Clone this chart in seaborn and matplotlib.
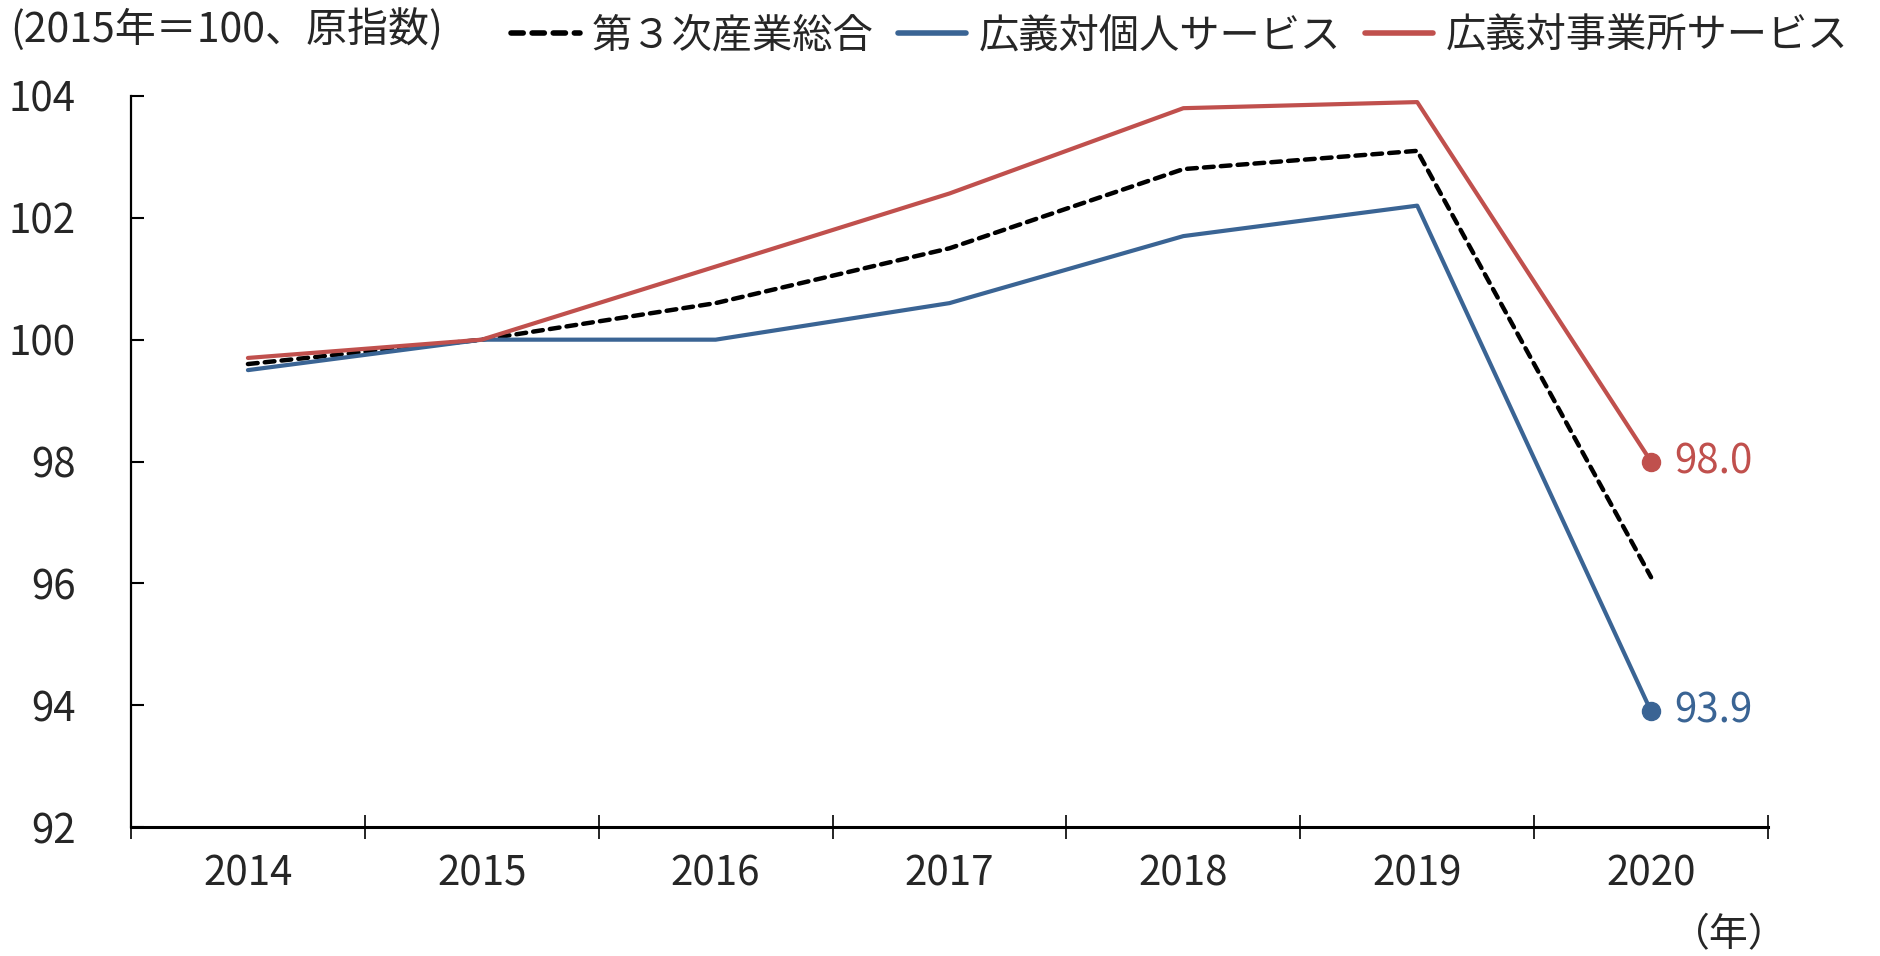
import numpy as np
import pandas as pd
import seaborn as sns
import matplotlib.pyplot as plt

years = ["2014", "2015", "2016", "2017", "2018", "2019", "2020"]
total = [99.6, 100.0, 100.6, 101.5, 102.8, 103.1, 96.1]       # 第３次産業総合
personal = [99.5, 100.0, 100.0, 100.6, 101.7, 102.2, 93.9]    # 広義対個人サービス
business = [99.7, 100.0, 101.2, 102.4, 103.8, 103.9, 98.0]    # 広義対事業所サービス
y_ticks = [92, 94, 96, 98, 100, 102, 104]

RED = "#C0504D"
BLUE = "#3A6494"

sns.set_style("white")
plt.rcParams["font.family"] = ["Noto Sans CJK JP", "DejaVu Sans"]

df = pd.DataFrame({"idx": np.arange(len(years)), "year": years,
                   "total": total, "personal": personal, "business": business})

fig, ax = plt.subplots(figsize=(18.81, 9.56), dpi=100)
fig.subplots_adjust(left=131 / 1881, right=1768 / 1881, top=1 - 96 / 956, bottom=1 - 827 / 956)

sns.lineplot(data=df, x="idx", y="total", color="black", lw=3.2,
             linestyle=(0, (2.2, 1.6)), dash_capstyle="round", ax=ax, label="第３次産業総合")
sns.lineplot(data=df, x="idx", y="personal", color=BLUE, lw=3, ax=ax, label="広義対個人サービス")
sns.lineplot(data=df, x="idx", y="business", color=RED, lw=3, ax=ax, label="広義対事業所サービス")

# end point markers + labels
for vals, col in [(business, RED), (personal, BLUE)]:
    ax.plot([df["idx"].iloc[-1]], [vals[-1]], "o", color=col, ms=13, zorder=5)
    ax.annotate(f"{vals[-1]:.1f}", (df["idx"].iloc[-1], vals[-1]), xytext=(17, 0),
                textcoords="offset points", color=col, fontsize=29, va="center", ha="left")

ax.set_xlim(-0.5, len(years) - 0.5)
ax.set_ylim(92, 104)
ax.set_yticks(y_ticks)
ax.set_yticklabels([str(v) for v in y_ticks], fontsize=29)
ax.set_xticks(np.arange(-0.5, len(years)), labels=[""] * (len(years) + 1))
ax.set_xticks(np.arange(len(years)), labels=years, minor=True, fontsize=29)
ax.tick_params(axis="x", which="major", direction="inout", length=17, width=1.2,
               color="black", bottom=True)
ax.tick_params(axis="x", which="minor", length=0, pad=19, bottom=True)
ax.tick_params(axis="y", direction="in", length=9, width=1.5, color="black", pad=40, left=True)
ax.set_xlabel("")
ax.set_ylabel("")

for s in ["top", "right"]:
    ax.spines[s].set_visible(False)
ax.spines["bottom"].set_linewidth(2.2)
ax.spines["left"].set_linewidth(1.6)
ax.spines["bottom"].set_color("black")
ax.spines["left"].set_color("black")

leg = ax.legend(loc="center right", bbox_to_anchor=(1868 / 1881, 1 - 36 / 956),
                bbox_transform=fig.transFigure, ncol=3, frameon=False, fontsize=29,
                handlelength=1.7, handletextpad=0.3, columnspacing=0.6, borderpad=0)
for line in leg.get_lines():
    line.set_linewidth(4)

fig.text(10 / 1881, 1 - 29 / 956, "(2015年＝100、原指数)", fontsize=29.5, va="center", ha="left")
fig.text(1788 / 1881, 1 - 935 / 956, "（年）", fontsize=28, va="center", ha="right")

fig.savefig("out.png", dpi=100)
